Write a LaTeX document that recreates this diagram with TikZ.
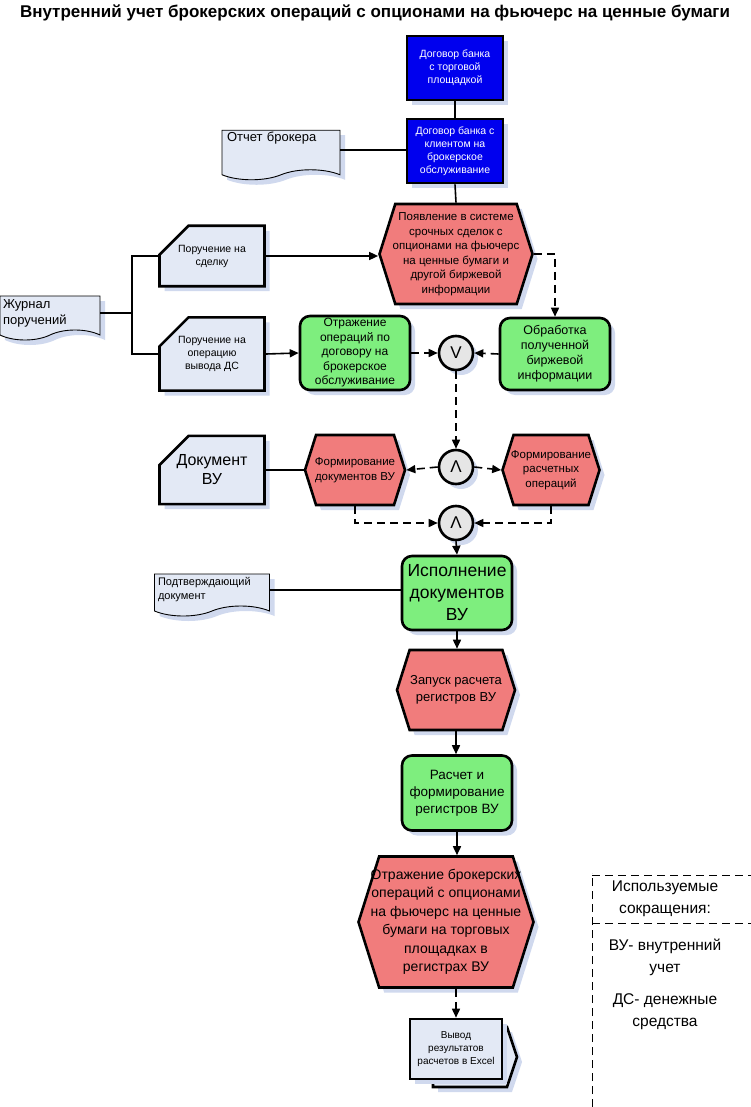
\documentclass[tikz,border=0pt]{standalone}
\usepackage{fontspec}
\setmainfont{Liberation Sans}
\usepackage{tikz}
\usetikzlibrary{positioning,shapes.symbols,shapes.misc,shadows,arrows.meta}

\definecolor{contractblue}{RGB}{0,0,238}
\definecolor{eventred}{RGB}{241,124,124}
\definecolor{funcgreen}{RGB}{126,238,126}
\definecolor{docblue}{RGB}{227,233,245}
\definecolor{gatefill}{RGB}{230,230,230}
\definecolor{shadowblue}{RGB}{208,217,238}

\begin{document}
\begin{tikzpicture}[
    x=1pt, y=-1pt,
    base/.style = {
        draw=black,
        line width=2.6pt,
        align=center,
        inner sep=2pt,
        drop shadow={shadow xshift=5pt, shadow yshift=-5pt, fill=shadowblue, opacity=1}
    },
    contract/.style = {base, rectangle, fill=contractblue, text=white,
        minimum width=96pt, minimum height=64pt, font=\fontsize{10.5}{13}\selectfont},
    event/.style    = {base, signal, signal to=west and east, signal pointer angle=145,
        inner xsep=-16pt, fill=eventred, font=\fontsize{11.5}{14.5}\selectfont},
    func/.style     = {base, rectangle, rounded corners=10pt, fill=funcgreen,
        minimum width=110pt, minimum height=74pt, font=\fontsize{12}{14.5}\selectfont},
    card/.style     = {base, chamfered rectangle, chamfered rectangle corners=north west,
        chamfered rectangle xsep=12pt, chamfered rectangle ysep=17pt, fill=docblue,
        minimum width=105pt, minimum height=51pt, font=\fontsize{10.5}{13}\selectfont},
    doc/.style      = {base, tape, tape bend top=none, tape bend bottom=in and out,
        tape bend height=10pt, line width=0.9pt, fill=docblue, align=left},
    gate/.style     = {base, circle, fill=gatefill, minimum size=34pt, inner sep=0pt,
        font=\fontsize{17}{17}\selectfont},
    arrow/.style     = {-{Triangle[length=9pt,width=8pt]}, line width=1.6pt},
    dasharrow/.style = {arrow, dash pattern=on 8pt off 5pt},
    link/.style      = {line width=1.6pt},
    legendline/.style = {line width=1pt, dash pattern=on 8pt off 5pt},
    legendtext/.style = {align=center, font=\fontsize{15.5}{22}\selectfont}
]
\useasboundingbox (0,0) rectangle (751,1107);

% Title
\node[font=\bfseries\fontsize{17}{20}\selectfont] (title) at (375,13)
    {Внутренний учет брокерских операций с опционами на фьючерс на ценные бумаги};

% Contracts
\node[contract] (contractTP) at (455,68) {Договор банка\\с торговой\\площадкой};
\node[contract] (contractCl) at (455,151) {Договор банка с\\клиентом на\\брокерское\\обслуживание};
\node[doc, minimum width=118pt, minimum height=46pt, text width=108pt,
    font=\fontsize{13}{16}\selectfont] (report) at (281,150) {Отчет брокера\\[10pt]\mbox{}};

% Start event and orders
\node[event, minimum width=153pt, minimum height=100pt] (appear) at (456,254)
    {Появление в системе\\срочных сделок с\\опционами на фьючерс\\на ценные бумаги и\\другой биржевой\\информации};
\node[doc, minimum width=100pt, minimum height=44pt, text width=94pt,
    font=\fontsize{13}{16}\selectfont] (journal) at (50,313) {Журнал\\поручений};
\node[card] (orderDeal) at (212,256) {Поручение на\\сделку};
\node[card] (orderOut) at (212,354) {Поручение на\\операцию\\вывода ДС};
\coordinate (split) at (132,313);

% Processing row
\node[func] (reflect) at (355,353) {Отражение\\операций по\\договору на\\брокерское\\обслуживание};
\node[gate] (orGate) at (456,353) {V};
\node[func, minimum height=72pt, font=\fontsize{12.5}{15}\selectfont] (process) at (555,354)
    {Обработка\\полученной\\биржевой\\информации};

% Documents of internal accounting
\node[gate] (andSplit) at (456,467) {Λ};
\node[event, minimum width=100pt, minimum height=70pt] (formDocs) at (355,470)
    {Формирование\\документов ВУ};
\node[event, minimum width=97pt, minimum height=70pt] (formCalc) at (551,470)
    {Формирование\\расчетных\\операций};
\node[card, minimum height=53pt, font=\fontsize{16}{19}\selectfont] (docVU) at (212,470) {Документ\\ВУ};
\node[gate] (andJoin) at (456,523) {Λ};

% Execution and registers
\node[func, font=\fontsize{17.5}{22}\selectfont] (execute) at (457,593) {Исполнение\\документов\\ВУ};
\node[doc, minimum width=115pt, minimum height=42pt, text width=108pt,
    font=\fontsize{11}{14}\selectfont] (confirm) at (212,590) {Подтверждающий\\документ\\[4pt]};
\node[event, minimum width=118pt, minimum height=80pt, font=\fontsize{13}{17}\selectfont] (launch) at (456,690)
    {Запуск расчета\\регистров ВУ};
\node[func, minimum height=75pt, font=\fontsize{13.5}{17}\selectfont] (calc) at (457,793)
    {Расчет и\\формирование\\регистров ВУ};
\node[event, minimum width=175pt, minimum height=131pt, font=\fontsize{14}{18.5}\selectfont] (result) at (446,922)
    {Отражение брокерских\\операций с опционами\\на фьючерс на ценные\\бумаги  на торговых\\площадках в\\регистрах ВУ};

% Output
\node[base, signal, signal to=east, signal pointer angle=143, fill=docblue,
    minimum width=84pt, minimum height=60pt] (outputBack) at (470,1057) {};
\node[base, rectangle, fill=docblue, minimum width=92pt, minimum height=60pt,
    font=\fontsize{10}{13}\selectfont] (output) at (456,1049) {Вывод\\результатов\\расчетов в Excel};

% Legend
\draw[legendline] (592,1107) -- (592,873);
\draw[legendline] (592,875) -- (751,875);
\draw[legendline] (592,923) -- (751,923);
\node[legendtext] (legendHead) at (665,899) {Используемые\\сокращения:};
\node[legendtext] (legendVU) at (665,957) {ВУ- внутренний\\учет};
\node[legendtext] (legendDS) at (665,1012) {ДС- денежные\\средства};

% Connectors
\draw[link] (contractTP.south) -- (contractCl.north);
\draw[link] (contractCl.south) -- (appear.north);
\draw[link] (report.east) -- (report.east -| contractCl.west);
\draw[link] (journal.east) -- (split);
\draw[link] (orderDeal.west) -| (split) |- (orderOut.west);
\draw[arrow] (orderDeal.east) -- (orderDeal.east -| appear.west);
\draw[arrow] (orderOut.east) -- (reflect.west);
\draw[dasharrow] (appear.east) -| (process.north);
\draw[dasharrow] (reflect.east) -- (orGate.west);
\draw[dasharrow] (process.west) -- (orGate.east);
\draw[dasharrow] (orGate.south) -- (andSplit.north);
\draw[dasharrow] (andSplit.west) -- (formDocs.east);
\draw[dasharrow] (andSplit.east) -- (formCalc.west);
\draw[link] (docVU.east) -- (formDocs.west);
\draw[dasharrow] (formDocs.south) |- (andJoin.west);
\draw[dasharrow] (formCalc.south) |- (andJoin.east);
\draw[arrow] (andJoin.south) -- (execute.north);
\draw[link] (confirm.east) -- (confirm.east -| execute.west);
\draw[arrow] (execute.south) -- (execute.south |- launch.north);
\draw[arrow] (launch.south) -- (launch.south |- calc.north);
\draw[arrow] (calc.south) -- (calc.south |- result.north);
\draw[dasharrow] (output.north |- result.south) -- (output.north);

\end{tikzpicture}
\end{document}
